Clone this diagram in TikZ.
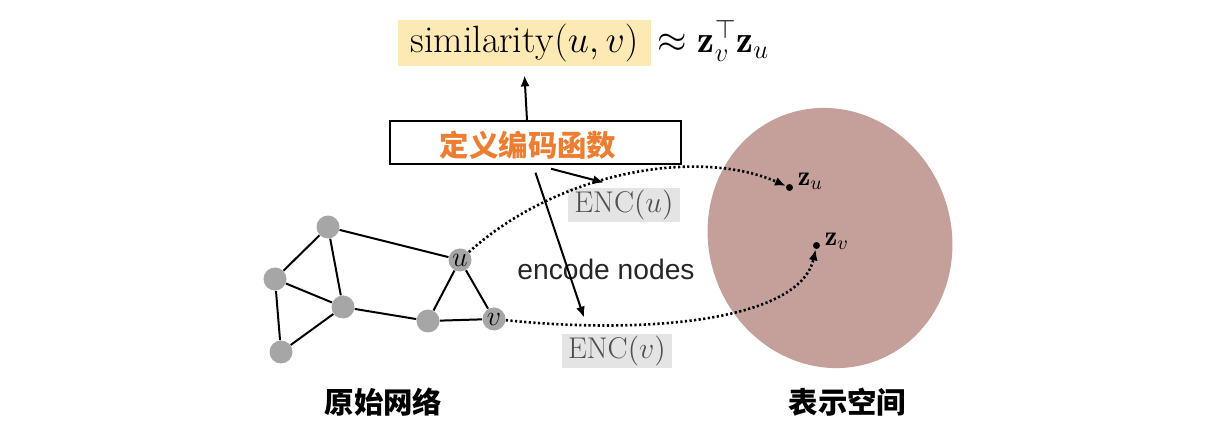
\RequirePackage{fix-cm}
\documentclass[tikz,border=0pt]{standalone}
\usepackage{amsmath}
\usepackage{fontspec}
\newfontfamily\cjk{Noto Sans CJK SC}
\newfontfamily\helv{Liberation Sans}
\usetikzlibrary{arrows.meta,calc}
\definecolor{simyellow}{RGB}{253,233,180}
\definecolor{nodegray}{RGB}{166,166,166}
\definecolor{ellcol}{RGB}{197,160,155}
\definecolor{encgray}{RGB}{228,228,228}
\definecolor{enctext}{RGB}{80,80,80}
\definecolor{deforange}{RGB}{237,125,49}
\begin{document}
\begin{tikzpicture}[x=0.5pt,y=-0.5pt,
  gnode/.style={circle,fill=nodegray,minimum size=11.5pt,inner sep=0pt,font=\fontsize{14}{16}\selectfont},
  edge/.style={line width=1pt},
  arr/.style={line width=1pt,-{Latex[length=5.5pt,width=4.5pt]}},
  dotarr/.style={line width=1.3pt,dash pattern=on 1.1pt off 1.2pt,-{Latex[length=5.5pt,width=4.5pt]}},
  encbox/.style={fill=encgray,text=enctext,inner sep=0pt,minimum height=17pt,font=\fontsize{15}{18}\selectfont},
  cjkbold/.style={font=\cjk\bfseries\fontsize{14.7}{17}\selectfont},
  dot/.style={circle,fill=black,inner sep=0pt,minimum size=3.5pt},
  zlabel/.style={anchor=base west,inner sep=0pt,font=\fontsize{14}{16}\selectfont}]
\useasboundingbox (0,0) rectangle (1208,437);

% embedding space
\fill[ellcol, rotate around={20:(830,238)}] (830,238) ellipse [x radius=60.6pt, y radius=65.6pt];

% top formula
\node[fill=simyellow, minimum width=126.5pt, minimum height=23pt, inner sep=0pt,
      font=\fontsize{19}{22}\selectfont] (sim) at (524.5,43) {$\mathrm{similarity}(u,v)$};
\node[anchor=base west, inner sep=0pt, font=\fontsize{19}{22}\selectfont] (approx)
      at ([xshift=3pt]sim.base east) {$\approx \mathbf{z}_v^{\top}\mathbf{z}_u$};

% define encoder box
\node[draw, line width=0.75pt, minimum width=145.5pt, minimum height=21.5pt, inner sep=0pt] (def) at (535.5,142.5) {};
\node[cjkbold, text=deforange, inner sep=0pt] (deftext) at (528,145) {定义编码函数};

% ENC boxes
\node[encbox, minimum width=56pt] (encu) at (624,205) {$\mathrm{ENC}(u)$};
\node[encbox, minimum width=55pt] (encv) at (617,351) {$\mathrm{ENC}(v)$};

\node[font=\helv\fontsize{14.1}{17}\selectfont, text=black!85, inner sep=0pt] (encn) at (606,269) {encode nodes};

% arrows from box
\draw[arr] ([xshift=-4.25pt]def.north) -- ([yshift=-4.5pt]sim.south);
\draw[arr] ([xshift=7.75pt,yshift=-2pt]def.south) -- ([xshift=-10pt,yshift=2.5pt]encu.north);
\draw[arr] ([yshift=-4pt]def.south) -- ([xshift=-16.5pt,yshift=8pt]encv.north);

% graph
\node[gnode] (a) at (328,227) {};
\node[gnode] (b) at (275,279) {};
\node[gnode] (c) at (343,307) {};
\node[gnode] (d) at (281,352) {};
\node[gnode] (e) at (428,321) {};
\node[gnode] (u) at (460,260) {$u$};
\node[gnode] (v) at (494,319) {$v$};
\draw[edge] (a) -- (b);
\draw[edge] (a) -- (c);
\draw[edge] (a) -- (u);
\draw[edge] (b) -- (c);
\draw[edge] (b) -- (d);
\draw[edge] (d) -- (c);
\draw[edge] (c) -- (e);
\draw[edge] (e) -- (u);
\draw[edge] (e) -- (v);
\draw[edge] (u) -- (v);

% embeddings
\node[dot] (zu) at (789.5,187.5) {};
\node[dot] (zv) at (816.5,245.5) {};
\node[zlabel] (zul) at ([xshift=4pt,yshift=1pt]zu.center) {$\mathbf{z}_u$};
\node[zlabel] (zvl) at ([xshift=4pt,yshift=0pt]zv.center) {$\mathbf{z}_v$};

\draw[dotarr] (u) .. controls (560,170) and (700,148) .. (zu);
\draw[dotarr] (v) .. controls (650,335) and (800,320) .. (zv);

% bottom labels
\node[cjkbold, inner sep=0pt] (lg) at (383.5,402.5) {原始网络};
\node[cjkbold, inner sep=0pt] (le) at (847.5,402.5) {表示空间};
\end{tikzpicture}
\end{document}
